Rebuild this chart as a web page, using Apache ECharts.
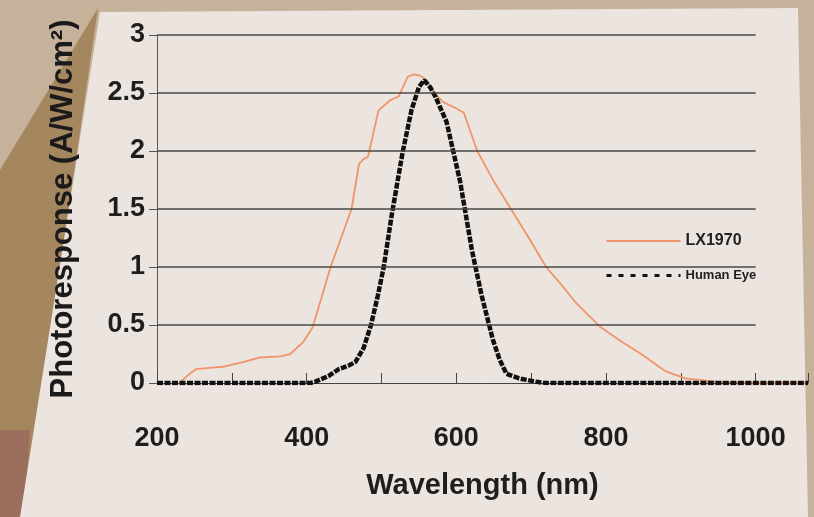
<!DOCTYPE html>
<html>
<head>
<meta charset="utf-8">
<script src="https://cdn.jsdelivr.net/npm/echarts@6/dist/echarts.min.js"></script>
<style>
html,body{margin:0;padding:0;background:#c6b29a;}
#chart{width:814px;height:517px;}
</style>
</head>
<body>
<div id="chart"></div>
<script>
// Wavelength (nm) and photoresponse (A/W/cm²)
const lxWavelength = [230, 240, 252, 270, 288, 315, 338, 365, 378, 395, 408, 420, 432, 446, 460, 470, 476, 482, 496, 512, 523, 535, 543, 552, 560, 570, 583, 599, 610, 628, 650, 673, 697, 720, 740, 760, 793, 820, 847, 880, 906, 948, 1000, 1070];
const lxResponse   = [0, 0.06, 0.12, 0.13, 0.14, 0.18, 0.22, 0.23, 0.25, 0.35, 0.48, 0.74, 1.0, 1.25, 1.5, 1.89, 1.93, 1.95, 2.35, 2.44, 2.47, 2.64, 2.66, 2.65, 2.61, 2.5, 2.42, 2.37, 2.33, 2.0, 1.74, 1.5, 1.25, 1.0, 0.85, 0.69, 0.48, 0.36, 0.25, 0.1, 0.04, 0.01, 0, 0];

const eyeWavelength = [200, 300, 405, 411, 429, 443, 456, 465, 476, 486, 495, 503, 514, 528, 540, 550, 557, 565, 572, 587, 605, 621, 634, 649, 658, 667, 684, 707, 720, 900, 1070];
const eyeResponse   = [0, 0, 0, 0.01, 0.06, 0.12, 0.15, 0.18, 0.3, 0.5, 0.75, 1.0, 1.46, 1.98, 2.35, 2.55, 2.61, 2.55, 2.47, 2.25, 1.74, 1.14, 0.75, 0.37, 0.2, 0.08, 0.04, 0.01, 0, 0, 0];

const seriesNames = ['LX1970', 'Human Eye'];
const gridValues = [0.5, 1, 1.5, 2, 2.5, 3];
const xLabelValues = [200, 400, 600, 800, 1000];

const chart = echarts.init(document.getElementById('chart'), null, {renderer: 'canvas'});
const font = "'Liberation Sans', Arial, sans-serif";

chart.setOption({
  backgroundColor: '#c6b29a',
  animation: false,
  graphic: [
    {type: 'polygon', z: -10, silent: true,
     shape: {points: [[0, 170], [98, 8], [24, 517], [0, 517]]},
     style: {fill: '#a4865f'}},
    {type: 'polygon', z: -9, silent: true,
     shape: {points: [[0, 430], [30, 430], [24, 517], [0, 517]]},
     style: {fill: '#9c6e5e'}},
    {type: 'polygon', z: -8, silent: true,
     shape: {points: [[100, 12], [798, 8], [808, 517], [20, 517]]},
     style: {fill: '#ece4df'}}
  ],
  grid: {left: 157, right: 6, top: 35, bottom: 134},
  legend: {
    orient: 'vertical',
    left: 600, top: 228,
    itemWidth: 74, itemHeight: 12, itemGap: 20,
    itemStyle: {opacity: 0},
    data: [
      {name: seriesNames[0], textStyle: {fontSize: 16}},
      {name: seriesNames[1], textStyle: {fontSize: 13},
       lineStyle: {type: [5, 7], width: 3}}
    ],
    textStyle: {fontFamily: font, fontWeight: 'bold', color: '#222'}
  },
  xAxis: {
    type: 'value', min: 200, max: 1070, interval: 100,
    axisLine: {show: true, lineStyle: {color: '#444', width: 1}},
    axisTick: {show: true, inside: true, length: 10, lineStyle: {color: '#444', width: 1}},
    axisLabel: {
      margin: 42,
      fontFamily: font, fontWeight: 'bold', fontSize: 27, color: '#1e1e1e',
      formatter: v => xLabelValues.indexOf(v) >= 0 ? String(v) : ''
    },
    splitLine: {show: false},
    name: 'Wavelength (nm)', nameLocation: 'middle', nameGap: 88,
    nameTextStyle: {fontFamily: font, fontWeight: 'bold', fontSize: 29, color: '#1e1e1e'}
  },
  yAxis: {
    type: 'value', min: 0, max: 3, interval: 0.5,
    axisLine: {show: true, lineStyle: {color: '#555', width: 1}},
    axisTick: {show: true, length: 8, lineStyle: {color: '#555', width: 1}},
    axisLabel: {margin: 12, fontFamily: font, fontWeight: 'bold', fontSize: 27, color: '#1e1e1e'},
    splitLine: {show: false},
    name: 'Photoresponse (A/W/cm²)', nameLocation: 'middle', nameGap: 78, nameRotate: 90,
    nameTextStyle: {fontFamily: font, fontWeight: 'bold', fontSize: 31, color: '#1a1a1a'}
  },
  series: [
    {
      name: seriesNames[0], type: 'line', symbol: 'none', z: 3,
      data: lxWavelength.map((w, i) => [w, lxResponse[i]]),
      lineStyle: {color: '#f0956a', width: 1.8},
      itemStyle: {color: '#f0956a'},
      markLine: {
        silent: true, symbol: 'none', animation: false,
        label: {show: false},
        lineStyle: {color: '#4a4a4a', width: 1.5, type: 'solid'},
        data: gridValues.map(v => [{coord: [200, v]}, {coord: [1000, v]}])
      }
    },
    {
      name: seriesNames[1], type: 'line', symbol: 'none', z: 4,
      data: eyeWavelength.map((w, i) => [w, eyeResponse[i]]),
      lineStyle: {color: '#111', width: 4.5, type: [6, 1.5]},
      itemStyle: {color: '#111'}
    }
  ]
});
</script>
</body>
</html>
